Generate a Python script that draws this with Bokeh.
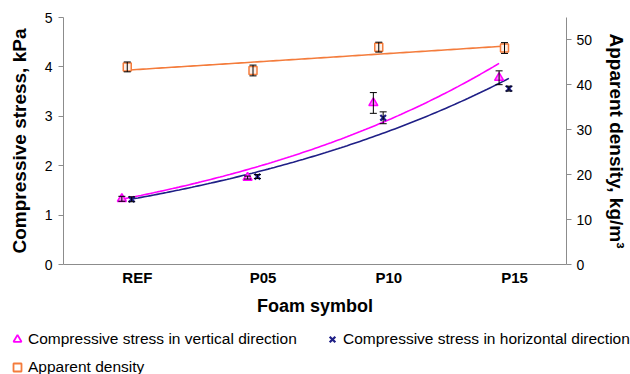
import numpy as np
from bokeh.plotting import figure
from bokeh.layouts import column, row
from bokeh.models import (Range1d, LinearAxis, FixedTicker, Whisker, TeeHead,
                          ColumnDataSource, Legend, LegendItem)
from bokeh.embed import file_html
from bokeh.resources import INLINE

# ---- data ----
categories = ["REF", "P05", "P10", "P15"]
stress_vertical = [1.33, 1.76, 3.27, 3.78]
stress_vertical_err = [0.05, 0.03, 0.21, 0.14]
stress_horizontal = [1.32, 1.78, 2.97, 3.56]
stress_horizontal_err = [0.05, 0.04, 0.12, 0.05]
density = [44.0, 43.2, 48.4, 48.2]
density_err = [1.1, 1.2, 1.1, 1.2]
left_ticks = [0, 1, 2, 3, 4, 5]
right_ticks = [0, 10, 20, 30, 40, 50]

FONT = "Liberation Sans"
PINK = "#FF00FF"
BLUE = "#1F1F86"
ORANGE = "#F47C3C"
AXIS = "#8C8C8C"

idx = np.arange(len(categories), dtype=float)
xv = idx - 0.123
xh = idx - 0.045
xd = idx - 0.08

p = figure(width=630, height=320, output_backend="svg", toolbar_location=None,
           x_range=Range1d(-0.587, 3.413), y_range=Range1d(0, 5),
           min_border_left=63, min_border_right=63, min_border_top=17,
           min_border_bottom=56)
p.extra_y_ranges = {"dens": Range1d(0, 55)}
p.grid.visible = False
p.outline_line_color = None
p.background_fill_color = "white"
p.border_fill_color = "white"

# x axis
xa = p.xaxis[0]
xa.ticker = FixedTicker(ticks=list(idx))
xa.major_label_overrides = {i: c for i, c in enumerate(categories)}
xa.major_tick_line_color = None
xa.major_tick_in = 0
xa.major_tick_out = 0
xa.minor_tick_line_color = None
xa.axis_line_color = AXIS
xa.major_label_text_font = FONT
xa.major_label_text_font_style = "bold"
xa.major_label_text_font_size = "15px"
xa.major_label_text_color = "black"
xa.major_label_standoff = 4
xa.axis_label = "Foam symbol"
xa.axis_label_text_font = FONT
xa.axis_label_text_font_style = "bold"
xa.axis_label_text_font_size = "18px"
xa.axis_label_text_color = "black"
xa.axis_label_standoff = 7

# left axis
ya = p.yaxis[0]
ya.ticker = FixedTicker(ticks=left_ticks)
ya.minor_tick_line_color = None
ya.axis_line_color = AXIS
ya.major_tick_line_color = AXIS
ya.major_tick_in = 0
ya.major_tick_out = 5
ya.major_label_text_font = FONT
ya.major_label_text_font_size = "14px"
ya.major_label_text_color = "black"
ya.major_label_standoff = 6
ya.axis_label = "Compressive stress, kPa"
ya.axis_label_text_font = FONT
ya.axis_label_text_font_style = "bold"
ya.axis_label_text_font_size = "19px"
ya.axis_label_text_color = "black"
ya.axis_label_standoff = 12

# right axis
ra = LinearAxis(y_range_name="dens", ticker=FixedTicker(ticks=right_ticks))
ra.minor_tick_line_color = None
ra.axis_line_color = AXIS
ra.major_tick_line_color = AXIS
ra.major_tick_in = 0
ra.major_tick_out = 5
ra.major_label_text_font = FONT
ra.major_label_text_font_size = "14px"
ra.major_label_text_color = "black"
ra.major_label_standoff = 5
ra.axis_label = "Apparent density, kg/m³"
ra.axis_label_text_font = FONT
ra.axis_label_text_font_style = "bold"
ra.axis_label_text_font_size = "19px"
ra.axis_label_text_color = "black"
ra.axis_label_standoff = 11
p.add_layout(ra, "right")

# ---- trend lines (fitted to the data) ----
bv = np.polyfit(idx, np.log(stress_vertical), 1)
bh = np.polyfit(idx, np.log(stress_horizontal), 1)
bd = np.polyfit(idx, np.array(density), 1)
t = np.linspace(0, 3, 120)
p.line(t - 0.123, np.exp(np.polyval(bv, t)), line_color=PINK, line_width=1.6)
p.line(t - 0.045, np.exp(np.polyval(bh, t)), line_color=BLUE, line_width=1.6)
p.line(t - 0.08, np.polyval(bd, t), line_color=ORANGE, line_width=1.6,
       y_range_name="dens")

# ---- markers ----
p.scatter(xv, stress_vertical, marker="triangle", size=9, line_color=PINK,
          fill_color="#FF80FF", line_width=1.5)
p.scatter(xh, stress_horizontal, marker="x", size=8, line_color=BLUE, line_width=2.2)
p.scatter(xd, density, marker="square", size=8, line_color=ORANGE,
          fill_color="#FDF0E8", line_width=1.5, y_range_name="dens")

# ---- error bars ----
def whisk(x, y, e, rng="default"):
    src = ColumnDataSource(dict(x=list(x), lo=[a - b for a, b in zip(y, e)],
                                hi=[a + b for a, b in zip(y, e)]))
    w = Whisker(source=src, base="x", lower="lo", upper="hi", dimension="height",
                line_color="black", line_width=1,
                lower_head=TeeHead(size=7, line_color="black", line_width=1),
                upper_head=TeeHead(size=7, line_color="black", line_width=1),
                y_range_name=rng, level="overlay")
    p.add_layout(w)

whisk(xv, stress_vertical, stress_vertical_err)
whisk(xh, stress_horizontal, stress_horizontal_err)
whisk(xd, density, density_err, "dens")

# ---- legend (separate strip below the plot) ----
lg = figure(width=630, height=54, output_backend="svg", toolbar_location=None,
            x_range=Range1d(0, 1), y_range=Range1d(0, 1),
            x_axis_type=None, y_axis_type=None,
            min_border_left=0, min_border_right=0, min_border_top=0,
            min_border_bottom=0)
lg.grid.visible = False
lg.outline_line_color = None
nan = [float("nan")]
lv = lg.scatter(nan, nan, marker="triangle", size=9, line_color=PINK,
                fill_color=None, line_width=1.8)
lh = lg.scatter(nan, nan, marker="x", size=8, line_color=BLUE, line_width=2.2)
ld = lg.scatter(nan, nan, marker="square", size=9, line_color=ORANGE,
                fill_color=None, line_width=1.8)
legend = Legend(items=[
    LegendItem(label="Compressive stress in vertical direction", renderers=[lv]),
    LegendItem(label="Compressive stress in horizontal direction", renderers=[lh]),
    LegendItem(label="Apparent density", renderers=[ld]),
], location=(7, -3), orientation="horizontal", ncols=2,
    label_text_font=FONT, label_text_font_size="15.5px", label_text_color="black",
    glyph_width=20, glyph_height=20, label_height=20, label_width=286,
    label_standoff=1, padding=0, margin=0, spacing=8,
    background_fill_alpha=0, border_line_color=None)
lg.add_layout(legend, "center")

open("out.html", "w").write(file_html(column(p, row(lg, spacing=0), spacing=0), INLINE))
